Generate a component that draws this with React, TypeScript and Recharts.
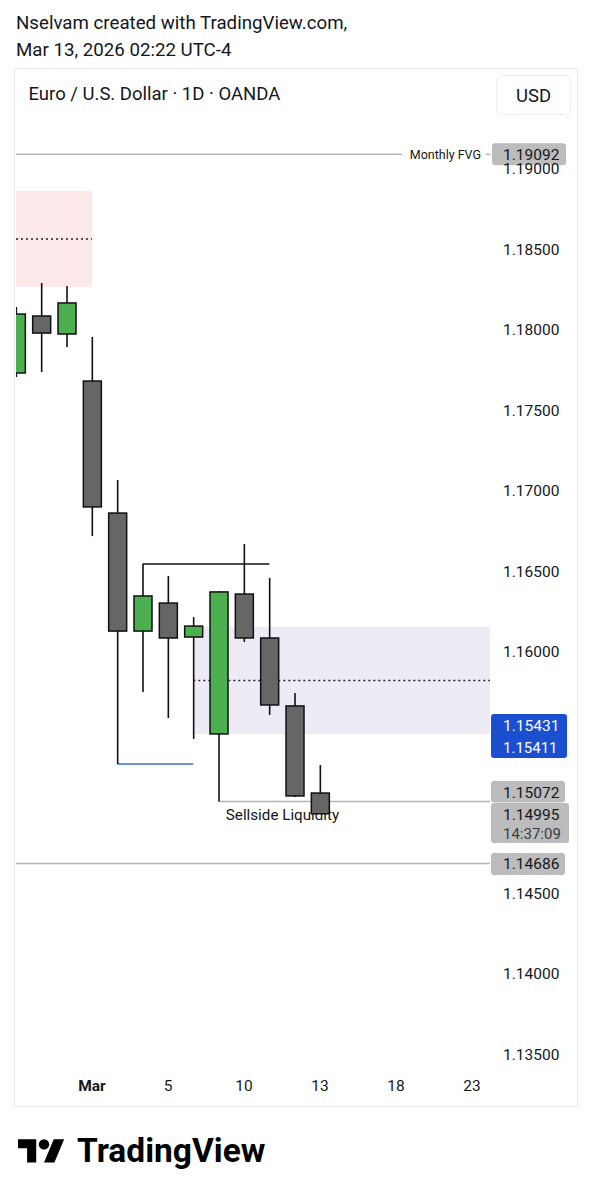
import React from "react";
import {
  ComposedChart,
  Bar,
  XAxis,
  YAxis,
  ReferenceArea,
  ReferenceLine,
} from "recharts";

// ---- data (EUR/USD daily, OANDA) ----
const dates = ["Feb 25", "Feb 26", "Feb 27", "Mar 2", "Mar 3", "Mar 4", "Mar 5", "Mar 6", "Mar 9", "Mar 10", "Mar 11", "Mar 12", "Mar 13"];
const opens = [1.17733, 1.18087, 1.17975, 1.17683, 1.16863, 1.1613, 1.16304, 1.16093, 1.15491, 1.1636, 1.16087, 1.15665, 1.15124];
const highs = [1.18143, 1.18292, 1.18273, 1.17957, 1.17068, 1.16547, 1.16472, 1.16217, 1.16379, 1.16671, 1.1646, 1.15745, 1.15298];
const lows = [1.17708, 1.17739, 1.17894, 1.1672, 1.15304, 1.15752, 1.1559, 1.1546, 1.15072, 1.16062, 1.15609, 1.151, 1.14995];
const closes = [1.18099, 1.17981, 1.18168, 1.16901, 1.1613, 1.16348, 1.16087, 1.16161, 1.16373, 1.16087, 1.15671, 1.15106, 1.14995];

const xTickIdx = [3, 6, 9, 12, 15, 18];
const xTickLabels = ["Mar", "5", "10", "13", "18", "23"];
const yTicks = [1.135, 1.14, 1.145, 1.16, 1.165, 1.17, 1.175, 1.18, 1.185, 1.19];

// zones & levels
const pinkZone = [0, 3, 1.18267, 1.18863]; // x1, x2, low, high
const purpleZone = [7, 1.15491, 1.16155]; // x1, low, high
const monthlyFvg = 1.19092;
const blueLevels = [1.15431, 1.15411];
const sellside = 1.15072;
const sellsideFrom = 8;
const sellsideText = [9.5, 11.54]; // text centred between these bar slots
const lastPrice = 1.14995;
const countdown = "14:37:09";
const lowerLevel = 1.14686;
const swingHigh = [5, 10, 1.16547]; // from, to, price
const swingLow = [4, 7, 1.15304];

const X_MAX = 18.71;
const Y_DOMAIN = [1.134037, 1.196149];

const data = dates.map((d, i) => ({
  i,
  date: d,
  open: opens[i],
  high: highs[i],
  low: lows[i],
  close: closes[i],
  range: [lows[i], highs[i]],
}));

const FONT = "Roboto, 'Noto Sans', sans-serif";
const TXT = "#131722";

const Candle = (props: any) => {
  const { x, y, width, height, payload } = props;
  if (x == null || y == null || !payload) return null;
  const top = Math.min(y, y + height);
  const bot = Math.max(y, y + height);
  const { open, close, high, low } = payload;
  const span = high - low || 1e-9;
  const py = (p: number) => bot - ((p - low) / span) * (bot - top);
  const cx = x + width / 2;
  const up = close >= open;
  const bTop = py(Math.max(open, close));
  const bBot = py(Math.min(open, close));
  return (
    <g>
      <line x1={cx} x2={cx} y1={top} y2={bot} stroke="#111" strokeWidth={1.6} />
      <rect
        x={x}
        y={bTop}
        width={width}
        height={Math.max(1, bBot - bTop)}
        fill={up ? "#4caf50" : "#666666"}
        stroke="#111"
        strokeWidth={1.5}
      />
    </g>
  );
};

// horizontal segment drawn beneath the candles
const hLine = (stroke: string, dash?: string) => (p: any) => (
  <line
    x1={p.x}
    x2={p.x + p.width}
    y1={p.y}
    y2={p.y}
    stroke={stroke}
    strokeWidth={1.5}
    strokeDasharray={dash}
  />
);

const sellsideShape = (p: any) => (
  <text
    x={p.x + p.width / 2}
    y={p.y + 18.5}
    textAnchor="middle"
    fontFamily={FONT}
    fontSize={15.2}
    fill={TXT}
  >
    Sellside Liquidity
  </text>
);

const Tag = (props: any) => {
  const { viewBox, lines, bg, color, dy, h, w, lineGap, subColor } = props;
  if (!viewBox) return null;
  const right = viewBox.x + viewBox.width;
  const top = viewBox.y + dy;
  return (
    <g>
      <rect x={right + 1} y={top} width={w} height={h} rx={3} fill={bg} />
      {lines.map((t: string, k: number) => (
        <text
          key={k}
          x={right + 13}
          y={top + 16.5 + k * lineGap}
          fontFamily={FONT}
          fontSize={k === 0 ? 15.5 : 15}
          fill={k === 0 ? color : subColor || color}
        >
          {t}
        </text>
      ))}
    </g>
  );
};

const FvgLabel = (props: any) => {
  const { viewBox } = props;
  if (!viewBox) return null;
  const right = viewBox.x + viewBox.width;
  const cy = viewBox.y;
  return (
    <g>
      <rect x={right - 88} y={cy - 8} width={84} height={16} fill="#ffffff" />
      <text x={right - 9} y={cy + 4.5} textAnchor="end" fontFamily={FONT} fontSize={12.5} fill={TXT}>
        Monthly FVG
      </text>
      <rect x={right + 2} y={cy - 11} width={74} height={22} rx={3} fill="#bcbcbc" />
      <text x={right + 13} y={cy + 5.5} fontFamily={FONT} fontSize={15.5} fill={TXT}>
        {monthlyFvg.toFixed(5)}
      </text>
    </g>
  );
};

const YTick = (props: any) => {
  const { x, y, payload } = props;
  return (
    <text x={x + 13} y={y + 5.5} fontFamily={FONT} fontSize={15.5} fill={TXT}>
      {Number(payload.value).toFixed(5)}
    </text>
  );
};

const XTick = (props: any) => {
  const { x, y, payload } = props;
  const k = xTickIdx.indexOf(payload.value);
  const label = k >= 0 ? xTickLabels[k] : "";
  return (
    <text
      x={x}
      y={y + 20.5}
      textAnchor="middle"
      fontFamily={FONT}
      fontSize={15.5}
      fontWeight={label === "Mar" ? 700 : 400}
      fill={TXT}
    >
      {label}
    </text>
  );
};

export default function App() {
  const pinkMid = (pinkZone[2] + pinkZone[3]) / 2;
  const purpleMid = (purpleZone[1] + purpleZone[2]) / 2;
  return (
    <div
      style={{
        position: "absolute",
        left: 0,
        top: 0,
        width: 593,
        height: 1200,
        background: "#ffffff",
        overflow: "hidden",
        fontFamily: FONT,
      }}
    >
      <div
        style={{
          position: "absolute",
          left: 14,
          top: 68,
          width: 562,
          height: 1037,
          border: "1px solid #e9eaee",
        }}
      />
      <div style={{ position: "absolute", left: 0, top: 0 }}>
        <ComposedChart
          width={593}
          height={1200}
          data={data}
          margin={{ top: 70, left: 16, right: 16, bottom: 94 }}
        >
          <XAxis
            dataKey="i"
            type="number"
            domain={[0, X_MAX]}
            allowDataOverflow
            ticks={xTickIdx}
            interval={0}
            axisLine={false}
            tickLine={false}
            tickSize={0}
            tickMargin={0}
            height={36}
            tick={<XTick />}
          />
          <YAxis
            orientation="right"
            type="number"
            domain={Y_DOMAIN}
            allowDataOverflow
            ticks={yTicks}
            interval={0}
            axisLine={false}
            tickLine={false}
            tickSize={0}
            tickMargin={0}
            width={87}
            tick={<YTick />}
          />
          <ReferenceArea
            x1={pinkZone[0]}
            x2={pinkZone[1]}
            y1={pinkZone[2]}
            y2={pinkZone[3]}
            fill="#fde9ea"
            fillOpacity={1}
            stroke="none"
          />
          <ReferenceArea
            x1={purpleZone[0]}
            x2={X_MAX}
            y1={purpleZone[1]}
            y2={purpleZone[2]}
            fill="#eeebf7"
            fillOpacity={1}
            stroke="none"
          />
          <ReferenceArea x1={pinkZone[0]} x2={pinkZone[1]} y1={pinkMid} y2={pinkMid} shape={hLine("#222", "2 3")} />
          <ReferenceArea x1={purpleZone[0]} x2={X_MAX} y1={purpleMid} y2={purpleMid} shape={hLine("#222", "2 3")} />
          <ReferenceArea x1={sellsideFrom} x2={X_MAX} y1={sellside} y2={sellside} shape={hLine("#b5b5b5")} />
          <ReferenceArea x1={sellsideText[0]} x2={sellsideText[1]} y1={sellside} y2={sellside} shape={sellsideShape} />
          <ReferenceArea x1={swingHigh[0]} x2={swingHigh[1]} y1={swingHigh[2]} y2={swingHigh[2]} shape={hLine("#111")} />
          <ReferenceArea x1={swingLow[0]} x2={swingLow[1]} y1={swingLow[2]} y2={swingLow[2]} shape={hLine("#3b6fd6")} />

          <ReferenceLine y={monthlyFvg} stroke="#b5b5b5" strokeWidth={1.5} label={<FvgLabel />} />
          <ReferenceLine
            y={lowerLevel}
            stroke="#b5b5b5"
            strokeWidth={1.5}
            label={<Tag lines={[lowerLevel.toFixed(5)]} bg="#bcbcbc" color={TXT} dy={-10.6} h={22} w={74} lineGap={0} />}
          />
          <ReferenceLine
            y={sellside}
            stroke="none"
            strokeOpacity={0}
            label={<Tag lines={[sellside.toFixed(5)]} bg="#bcbcbc" color={TXT} dy={-20.4} h={21.5} w={74} lineGap={0} />}
          />
          <ReferenceLine
            y={blueLevels[0]}
            stroke="none"
            strokeOpacity={0}
            label={<Tag lines={blueLevels.map((v) => v.toFixed(5))} bg="#1a4fd0" color="#ffffff" dy={-29.6} h={44} w={76} lineGap={22} />}
          />
          <ReferenceLine
            y={lastPrice}
            stroke="none"
            strokeOpacity={0}
            label={<Tag lines={[lastPrice.toFixed(5), countdown]} bg="#bcbcbc" color={TXT} subColor="#3a3d45" dy={-10.8} h={40} w={78} lineGap={19} />}
          />
          <Bar dataKey="range" barSize={18} shape={<Candle />} isAnimationActive={false} />
        </ComposedChart>
      </div>
      <svg
        width={593}
        height={1200}
        style={{ position: "absolute", left: 0, top: 0, pointerEvents: "none" }}
      >
        <text x={16} y={29} fontFamily={FONT} fontSize={18.7} fill={TXT}>
          Nselvam created with TradingView.com,
        </text>
        <text x={16} y={56} fontFamily={FONT} fontSize={18.7} fill={TXT}>
          Mar 13, 2026 02:22 UTC-4
        </text>
        <text x={28.5} y={99.5} fontFamily={FONT} fontSize={18.5} fill={TXT}>
          Euro / U.S. Dollar · 1D · OANDA
        </text>
        <rect x={496.5} y={75.5} width={74} height={39} rx={6} fill="#ffffff" stroke="#eeeeee" />
        <text x={533.5} y={101.5} textAnchor="middle" fontFamily={FONT} fontSize={18.5} fill={TXT}>
          USD
        </text>
        <g transform="translate(18 1134) scale(1.3)" fill="#000">
          <path d="M14 22H7V11H0V4h14v18zM28 22h-8l7.5-18h8L28 22z" />
          <circle cx="20" cy="8" r="4" />
        </g>
        <text x={77} y={1162} fontFamily={FONT} fontSize={33.5} fontWeight={700} fill="#000">
          TradingView
        </text>
      </svg>
    </div>
  );
}
